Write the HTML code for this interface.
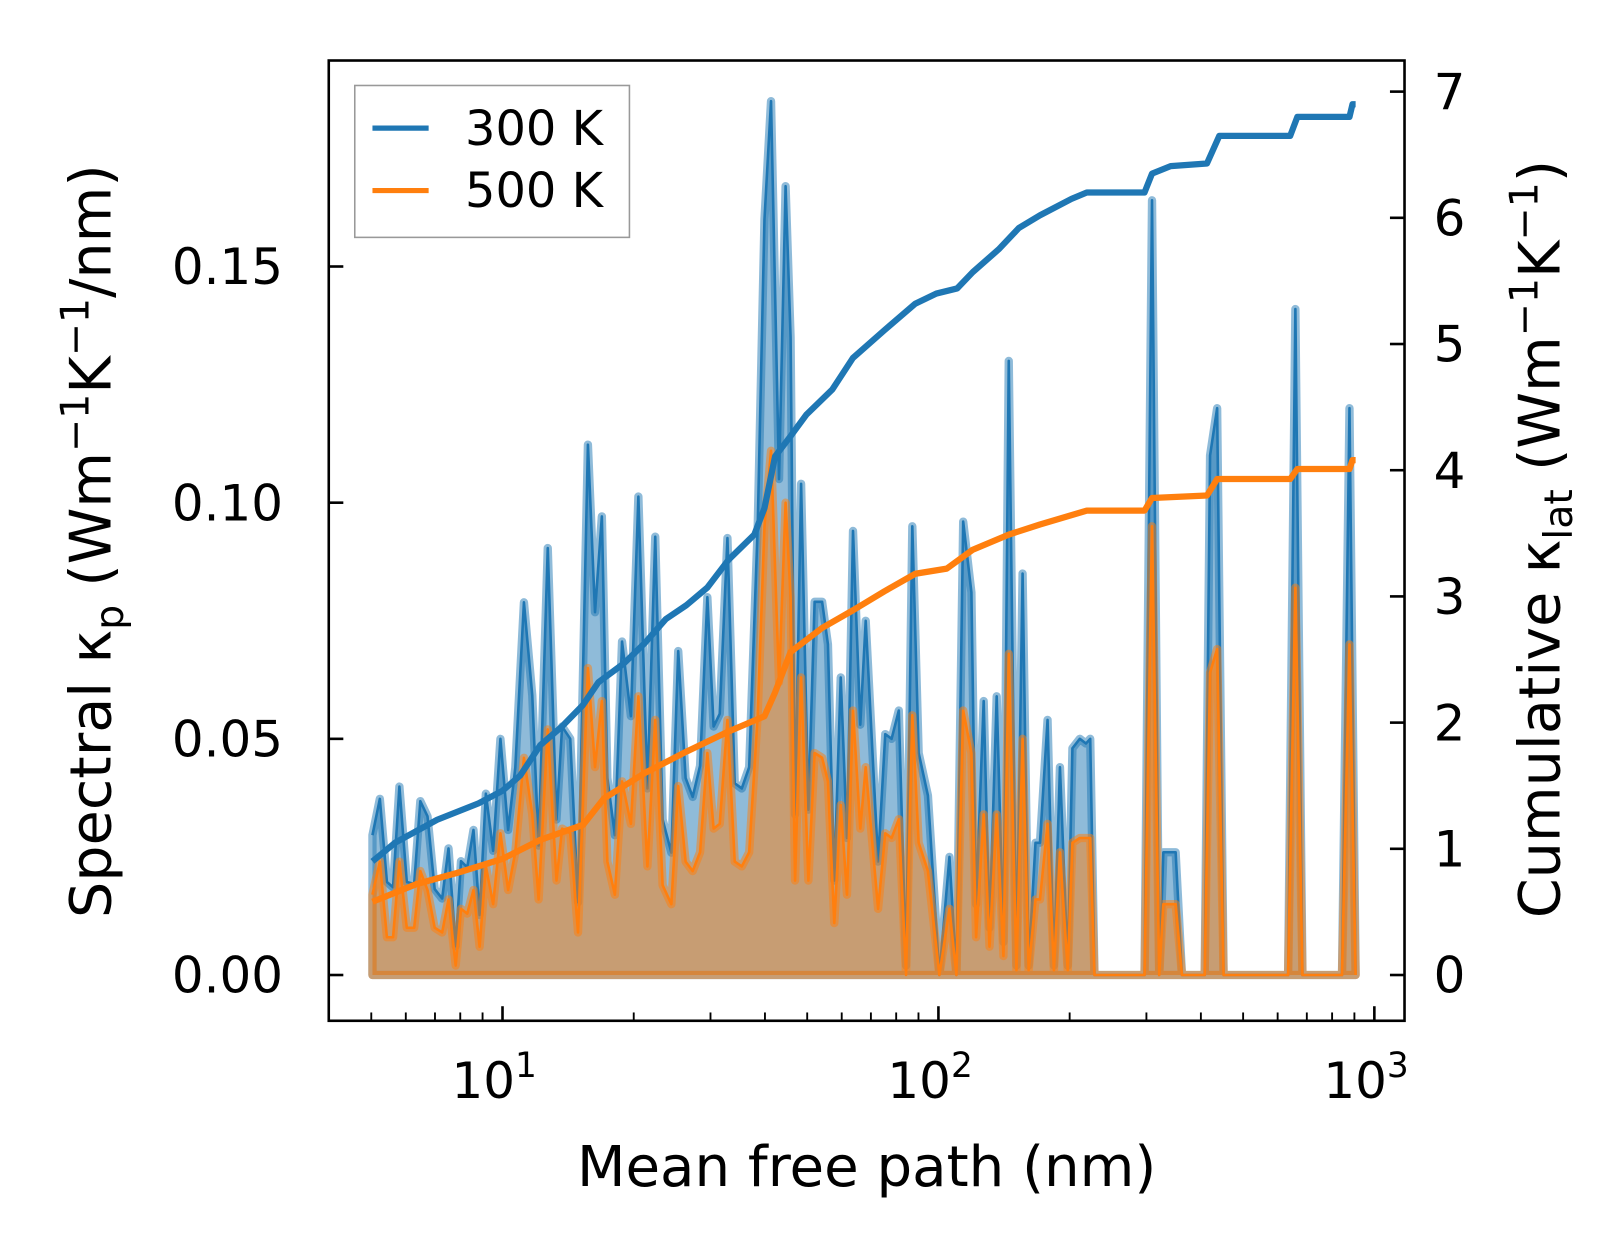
<!DOCTYPE html>
<html><head><meta charset="utf-8"><style>
html,body{margin:0;padding:0;background:#fff;}
svg{display:block;font-family:"DejaVu Sans","Liberation Sans",sans-serif;}
</style></head><body>
<svg id="chart" width="1623" height="1254" viewBox="0 0 1560 1205" xmlns="http://www.w3.org/2000/svg">
<g id="marks"></g>
<g id="axes"></g>
</svg>
<script>
const mfp = [5.03,5.23,5.43,5.61,5.80,6.03,6.27,6.48,6.73,6.99,7.27,7.52,7.81,8.03,8.30,8.58,8.86,9.16,9.52,9.89,10.3,10.7,11.2,11.7,12.1,12.7,13.3,13.7,14.3,14.9,15.7,16.3,16.9,17.4,18.1,18.8,19.7,20.5,21.5,22.4,23.3,24.4,25.3,26.3,27.3,28.4,29.5,30.5,31.5,32.8,34.1,35.4,36.8,38.5,39.9,41.3,43.1,44.6,45.8,46.9,48.4,50.3,52.0,54.1,55.8,57.7,59.7,61.7,63.7,66.2,68.1,72.7,75.5,78.1,81.1,84.3,87.1,90.1,94.6,100.5,106,110,114,119,122,127,131,136,141,145,151,156,161,167,171,178,184,190,198,203,211,218,223,228,297,309,321,328,350,362,408,420,436,451,634,659,684,843,877,906];
const spec300 = [0.0296,0.0373,0.0197,0.0186,0.0399,0.0197,0.0193,0.0368,0.0336,0.0182,0.0162,0.0268,0.0061,0.0241,0.0228,0.0307,0.0127,0.0384,0.0263,0.0500,0.0307,0.0439,0.0789,0.0592,0.0274,0.0904,0.0329,0.0526,0.0500,0.0154,0.1123,0.0768,0.0971,0.0417,0.0296,0.0706,0.0548,0.1013,0.0395,0.0928,0.0329,0.0259,0.0686,0.0417,0.0377,0.0443,0.0800,0.0526,0.0553,0.0925,0.0406,0.0395,0.044,0.095,0.160,0.185,0.105,0.167,0.135,0.034,0.104,0.035,0.079,0.079,0.070,0.020,0.063,0.029,0.094,0.053,0.075,0.024,0.051,0.050,0.056,0.002,0.095,0.047,0.038,0.0,0.025,0.0,0.096,0.081,0.015,0.058,0.010,0.059,0.007,0.130,0.002,0.085,0.002,0.028,0.028,0.054,0.002,0.044,0.002,0.048,0.050,0.049,0.050,0.0,0.0,0.164,0.0,0.026,0.026,0.0,0.0,0.11,0.12,0.0,0.0,0.141,0.0,0.0,0.12,0.0];
const spec500 = [0.017,0.024,0.008,0.008,0.024,0.010,0.010,0.022,0.018,0.010,0.009,0.016,0.002,0.014,0.013,0.018,0.006,0.023,0.015,0.030,0.018,0.026,0.046,0.034,0.016,0.052,0.020,0.031,0.030,0.009,0.065,0.044,0.058,0.024,0.017,0.041,0.032,0.059,0.023,0.054,0.019,0.015,0.040,0.024,0.022,0.026,0.047,0.031,0.032,0.054,0.024,0.023,0.026,0.055,0.095,0.111,0.062,0.100,0.080,0.020,0.063,0.020,0.047,0.046,0.041,0.011,0.036,0.017,0.056,0.031,0.044,0.014,0.030,0.029,0.033,0.0,0.055,0.028,0.022,0.0,0.014,0.0,0.056,0.047,0.008,0.034,0.006,0.034,0.004,0.068,0.001,0.050,0.001,0.016,0.016,0.032,0.001,0.026,0.001,0.028,0.029,0.029,0.029,0.0,0.0,0.095,0.0,0.015,0.015,0.0,0.0,0.064,0.069,0.0,0.0,0.082,0.0,0.0,0.070,0.0];
const cumX300 = [5.03,5.68,7.08,8.81,10.0,10.98,12.2,13.7,15.3,16.6,19.0,21.2,23.7,26.4,29.5,33.0,37.8,39.9,42.2,45.8,49.8,57.1,63.7,75.2,88.5,98.9,110.4,119.9,137.5,153,171,202,219,297,309,341,413,441,641,666,877,891,906];
const cum300 = [0.90,1.05,1.23,1.36,1.46,1.58,1.82,1.97,2.14,2.32,2.47,2.63,2.82,2.93,3.07,3.29,3.49,3.70,4.11,4.27,4.44,4.64,4.89,5.11,5.32,5.40,5.44,5.57,5.75,5.92,6.02,6.15,6.20,6.20,6.35,6.41,6.43,6.65,6.65,6.80,6.80,6.90,6.90];
const cumX500 = [5.03,6.34,7.89,10.0,12.2,15.3,17.1,21.2,26.4,33.0,39.9,42.2,45.8,54.1,63.7,75.2,88.5,104.5,119.9,145,171,219,297,309,413,436,641,666,877,891,906];
const cum500 = [0.58,0.72,0.81,0.92,1.07,1.19,1.40,1.60,1.77,1.93,2.05,2.24,2.56,2.75,2.89,3.04,3.18,3.22,3.37,3.49,3.57,3.68,3.68,3.78,3.80,3.93,3.93,4.01,4.01,4.08,4.08];
const leftTicks = [0,0.05,0.10,0.15];
const leftTickLabels = ["0.00","0.05","0.10","0.15"];
const rightTicks = [0,1,2,3,4,5,6,7];
const xDecades = [1,2,3];

const NS="http://www.w3.org/2000/svg";
const L=316,R=1350,T=58,B=981;
const xs = v => 483 + (Math.log10(v)-1)*419;
const yl = v => 937 - v*4540;
const yr = v => 937 - v*121.3;
function mk(tag, attrs, parent, text){const e=document.createElementNS(NS,tag);for(const k in attrs)e.setAttribute(k,attrs[k]);if(text!==undefined)e.textContent=text;parent.appendChild(e);return e;}
const marks=document.getElementById('marks'), axes=document.getElementById('axes');

function series(vals, color, name){
  let pts = mfp.map((x,i)=>xs(x).toFixed(1)+','+yl(vals[i]).toFixed(1));
  const area = 'M'+xs(mfp[0]).toFixed(1)+','+yl(0)+' L'+pts.join(' L')+' L'+xs(mfp[mfp.length-1]).toFixed(1)+','+yl(0)+' Z';
  const a=mk('path',{d:area,fill:color,'fill-opacity':0.5,stroke:color,'stroke-opacity':0.5,'stroke-width':8,'stroke-linejoin':'round'},marks);
  
  
  const l=mk('polyline',{points:pts.join(' '),fill:'none',stroke:color,'stroke-width':2.5,'stroke-linejoin':'round'},marks);
  
  
}
series(spec300,'#1f77b4','spectral-300k');
series(spec500,'#ff7f0e','spectral-500k');

function cum(xv, yv, color, name){
  const pts = xv.map((x,i)=>xs(x).toFixed(1)+','+yr(yv[i]).toFixed(1)).join(' ');
  const l=mk('polyline',{points:pts,fill:'none',stroke:color,'stroke-width':6,'stroke-linejoin':'round'},marks);
  
  
}
cum(cumX300,cum300,'#1f77b4','cumulative-300k-line');
cum(cumX500,cum500,'#ff7f0e','cumulative-500k-line');

const fr=mk('rect',{x:L,y:T,width:R-L,height:B-T,fill:'none',stroke:'#000','stroke-width':2.5},axes);



leftTicks.forEach((v,i)=>{
  const y=yl(v);
  mk('line',{x1:L,x2:L+14,y1:y,y2:y,stroke:'#000','stroke-width':2.5},axes);
  const t=mk('text',{x:L-44,y:y+17,'text-anchor':'end','font-size':48},axes,leftTickLabels[i]);
  
  
});
rightTicks.forEach(v=>{
  const y=yr(v);
  mk('line',{x1:R-14,x2:R,y1:y,y2:y,stroke:'#000','stroke-width':2.5},axes);
  const t=mk('text',{x:R+28,y:y+17,'font-size':48},axes,String(v));
  
  
});
for(let d=0; d<=3; d++){
  for(let m=1;m<10;m++){
    const v=m*Math.pow(10,d);
    if(v<4||v>1000) continue;
    const x=xs(v);
    if(x<L||x>R) continue;
    const major=(m===1);
    mk('line',{x1:x,x2:x,y1:B,y2:B-(major?14:8),stroke:'#000','stroke-width':major?2.5:1.8},axes);
  }
}
xDecades.forEach(d=>{
  const x=xs(Math.pow(10,d));
  const t=mk('text',{x:x-8,y:1055,'text-anchor':'middle','font-size':48},axes);
  
  
  t.appendChild(document.createTextNode('10'));
  mk('tspan',{dy:-20,'font-size':33},t,String(d));
});
const xt=mk('text',{x:833,y:1140,'text-anchor':'middle','font-size':54},axes,'Mean free path (nm)');



const yt=mk('text',{transform:'translate(106,520) rotate(-90)','text-anchor':'middle','font-size':55},axes);


yt.innerHTML='Spectral κ<tspan dy="12" font-size="38">p</tspan><tspan dy="-12"> (Wm</tspan><tspan dy="-21" font-size="38">−1</tspan><tspan dy="21">K</tspan><tspan dy="-21" font-size="38">−1</tspan><tspan dy="21">/nm)</tspan>';

const rt=mk('text',{transform:'translate(1499,518) rotate(-90)','text-anchor':'middle','font-size':55},axes);


rt.innerHTML='Cumulative κ<tspan dy="12" font-size="38">lat</tspan><tspan dy="-12"> (Wm</tspan><tspan dy="-21" font-size="38">−1</tspan><tspan dy="21">K</tspan><tspan dy="-21" font-size="38">−1</tspan><tspan dy="21">)</tspan>';

const lg=mk('g',{},axes);


mk('rect',{x:341,y:82,width:264,height:146,fill:'#fff','fill-opacity':0.8,stroke:'#999','stroke-width':1.5},lg);
[['300 K','#1f77b4',123],['500 K','#ff7f0e',183]].forEach(([lab,c,y])=>{
  const e=mk('g',{},lg);
  
  
  mk('line',{x1:358,x2:412,y1:y,y2:y,stroke:c,'stroke-width':5},e);
  mk('text',{x:447,y:y+16,'font-size':46},e,lab);
});
</script>
</body></html>
